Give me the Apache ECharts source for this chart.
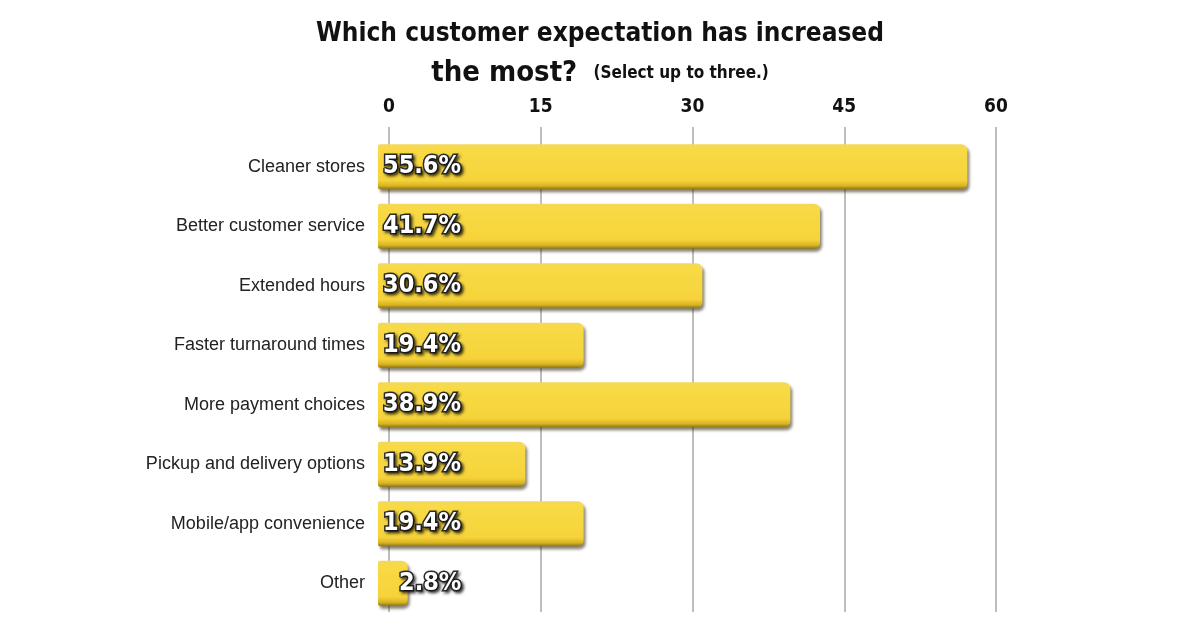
<!DOCTYPE html>
<html>
<head>
<meta charset="utf-8">
<script src="https://cdn.jsdelivr.net/npm/echarts@6/dist/echarts.min.js"></script>
<style>
  html, body { margin: 0; padding: 0; background: #fff; }
  #chart { width: 1200px; height: 628px; }
</style>
</head>
<body>
<div id="chart"></div>
<script>
// survey answers, percent of respondents
const categories = [
  'Cleaner stores',
  'Better customer service',
  'Extended hours',
  'Faster turnaround times',
  'More payment choices',
  'Pickup and delivery options',
  'Mobile/app convenience',
  'Other'
];
const values = [55.6, 41.7, 30.6, 19.4, 38.9, 13.9, 19.4, 2.8];
const ticks = [0, 15, 30, 45, 60];

const condensed = '"DejaVu Sans Condensed", "DejaVu Sans", sans-serif';
const plain = '"Liberation Sans", Arial, sans-serif';

const barFill = {
  type: 'linear', x: 0, y: 0, x2: 0, y2: 1,
  colorStops: [
    { offset: 0, color: '#f3d85c' },
    { offset: 0.12, color: '#f8da45' },
    { offset: 0.8, color: '#f6d33a' },
    { offset: 0.92, color: '#d9b423' },
    { offset: 1, color: '#8a7418' }
  ]
};

const barData = values.map((v) => {
  const item = { value: v };
  // the tiny bar gets its label pushed past the end
  if (v < 5) item.label = { offset: [16, 0] };
  return item;
});

const option = {
  backgroundColor: '#ffffff',
  animation: false,
  title: {
    text: 'Which customer expectation has increased\n{big|the most?}  {small|(Select up to three.)}',
    left: 'center',
    top: 10,
    textStyle: {
      fontFamily: condensed,
      fontWeight: 'bold',
      fontSize: 26,
      color: '#111',
      lineHeight: 39,
      rich: {
        big: { fontFamily: condensed, fontWeight: 'bold', fontSize: 29, color: '#111', lineHeight: 39 },
        small: { fontFamily: condensed, fontWeight: 'bold', fontSize: 17, color: '#111', lineHeight: 39 }
      }
    }
  },
  grid: [
    { left: 389, right: 204, top: 127, bottom: 16 },
    { left: 378, right: 186, top: 137, bottom: 15 }
  ],
  xAxis: [
    {
      gridIndex: 0,
      type: 'value',
      position: 'top',
      min: ticks[0],
      max: ticks[ticks.length - 1],
      interval: 15,
      axisLine: { show: false },
      axisTick: { show: false },
      axisLabel: {
        margin: 10,
        fontFamily: condensed,
        fontWeight: 'bold',
        fontSize: 19,
        color: '#111'
      },
      splitLine: { lineStyle: { color: '#bdbdbd', width: 2 } }
    },
    {
      gridIndex: 1,
      type: 'value',
      min: 0,
      max: 60,
      show: false
    }
  ],
  yAxis: [
    {
      gridIndex: 0,
      type: 'category',
      data: categories,
      show: false
    },
    {
      gridIndex: 1,
      type: 'category',
      data: categories,
      inverse: true,
      axisLine: { show: false },
      axisTick: { show: false },
      axisLabel: {
        margin: 13,
        fontFamily: plain,
        fontSize: 18,
        color: '#222'
      }
    }
  ],
  series: [
    {
      type: 'bar',
      xAxisIndex: 1,
      yAxisIndex: 1,
      data: barData,
      barWidth: '76%',
      itemStyle: {
        color: barFill,
        borderRadius: [2, 6, 6, 2],
        shadowColor: 'rgba(40, 30, 0, 0.55)',
        shadowBlur: 3,
        shadowOffsetX: 2,
        shadowOffsetY: 3
      },
      label: {
        show: true,
        position: 'insideLeft',
        distance: 5,
        formatter: (p) => p.value.toFixed(1) + '%',
        fontFamily: condensed,
        fontWeight: 'bold',
        fontSize: 25,
        color: '#ffffff',
        textBorderColor: '#2a2a2a',
        textBorderWidth: 3,
        textShadowColor: 'rgba(0,0,0,0.6)',
        textShadowBlur: 3,
        textShadowOffsetX: 2,
        textShadowOffsetY: 2
      }
    }
  ]
};

const chart = echarts.init(document.getElementById('chart'), null, { renderer: 'canvas' });
chart.setOption(option);
</script>
</body>
</html>
